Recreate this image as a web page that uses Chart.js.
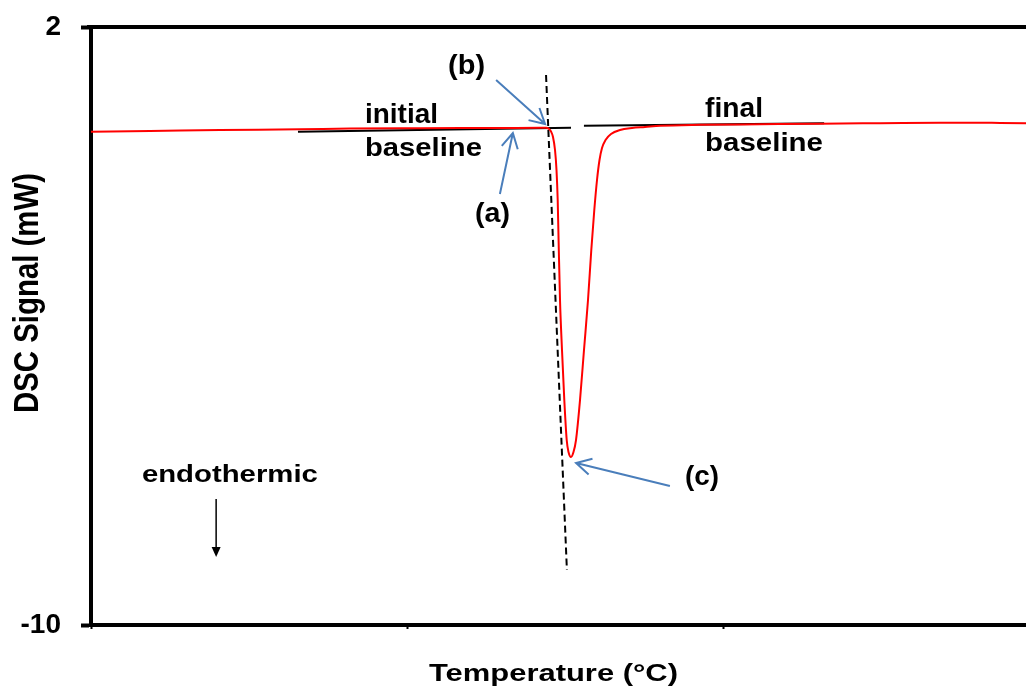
<!DOCTYPE html>
<html>
<head>
<meta charset="utf-8">
<title>DSC</title>
<script src="https://cdn.jsdelivr.net/npm/chart.js@4.4.0/dist/chart.umd.min.js"></script>
<style>
    html, body { margin: 0; padding: 0; background: #fff; overflow: hidden; }
    #wrap { position: relative; width: 1041px; height: 693px; }
</style>
</head>
<body>
<div id="wrap"><canvas id="myChart"></canvas></div>
<script>
// temperatura in unità arbitrarie (l'originale non stampa i numeri sull'asse x)
var temperature = [0, 0.187, 0.408, 0.661, 0.820, 1.041, 1.294, 1.421, 1.4399, 1.4494,
    1.4557, 1.4620, 1.4684, 1.4731, 1.4769, 1.4797, 1.4842, 1.4905, 1.4978, 1.5054,
    1.5111, 1.5190, 1.5269, 1.5348, 1.5475, 1.5601, 1.5728, 1.5832, 1.5927, 1.6013,
    1.6092, 1.6171, 1.6282, 1.6456, 1.6741, 1.7120, 1.753, 1.801, 1.927,
    2.117, 2.307, 2.497, 2.687, 2.813, 2.877, 2.959, 3.000];
var dsc_signal = [-0.101, -0.087, -0.067, -0.053, -0.037, -0.031, -0.027, -0.023, -0.023, -0.047,
    -0.097, -0.207, -0.468, -0.870, -1.472, -2.275, -3.479, -4.482, -5.486, -6.288,
    -6.529, -6.629, -6.529, -6.288, -5.486, -4.482, -3.479, -2.475, -1.673, -1.070,
    -0.669, -0.428, -0.267, -0.147, -0.067, -0.027, -0.007, 0.017, 0.037,
    0.049, 0.061, 0.069, 0.077, 0.081, 0.073, 0.069, 0.069];

// rette tangenti (linea di base iniziale, finale e tangente di onset)
var initial_base_x = [0.655, 1.519];
var initial_base_y = [-0.101, -0.021];
var final_base_x = [1.560, 2.320];
var final_base_y = [0.019, 0.067];
var onset_x = [1.440, 1.506];
var onset_y = [1.037, -8.897];

// scale
var y_min = -10;
var y_max = 2;
var x_min = 0;
var x_max = 3;

// etichette di testo (posizione in unità dei dati)
var labels = [
    { text: '(b)', x: 1.130, y: 1.057, size: 27, width: 37 },
    { text: 'initial', x: 0.867, y: 0.073, size: 27, width: 73 },
    { text: 'baseline', x: 0.867, y: -0.589, size: 26, width: 117 },
    { text: '(a)', x: 1.215, y: -1.913, size: 27, width: 35 },
    { text: 'final', x: 1.943, y: 0.194, size: 27, width: 58 },
    { text: 'baseline', x: 1.943, y: -0.488, size: 26, width: 118 },
    { text: '(c)', x: 1.880, y: -7.191, size: 27, width: 34 },
    { text: 'endothermic', x: 0.161, y: -7.131, size: 24, width: 176 }
];

// frecce blu (da -> a, unità dei dati)
var arrows = [
    { x1: 1.282, y1: 0.936, x2: 1.437, y2: 0.053 },
    { x1: 1.294, y1: -1.351, x2: 1.335, y2: -0.127 },
    { x1: 1.832, y1: -7.211, x2: 1.535, y2: -6.750 }
];
var endo_arrow = { x: 0.396, y1: -7.472, y2: -8.636 };

var FONT = "'Liberation Sans', Arial, sans-serif";
Chart.defaults.font.family = FONT;
Chart.defaults.color = '#000';

function to_points(xs, ys) {
    var pts = [];
    for (var i = 0; i < xs.length; i++) {
        pts.push({ x: xs[i], y: ys[i] });
    }
    return pts;
}

// scrive un testo adattandolo in larghezza (il grafico originale è stirato orizzontalmente)
function fit_text(ctx, text, x, y, size, width, rot, sy) {
    ctx.save();
    ctx.font = 'bold ' + size + 'px ' + FONT;
    ctx.textBaseline = 'alphabetic';
    ctx.textAlign = 'left';
    ctx.fillStyle = '#000';
    var w = ctx.measureText(text).width;
    ctx.translate(x, y);
    if (rot) ctx.rotate(rot);
    ctx.scale(width / w, sy || 1);
    ctx.fillText(text, 0, 0);
    ctx.restore();
}

function open_arrow(ctx, x1, y1, x2, y2) {
    var ang = Math.atan2(y2 - y1, x2 - x1);
    var len = 17, spread = 0.5;
    ctx.beginPath();
    ctx.moveTo(x1, y1);
    ctx.lineTo(x2, y2);
    ctx.moveTo(x2 - len * Math.cos(ang - spread), y2 - len * Math.sin(ang - spread));
    ctx.lineTo(x2, y2);
    ctx.lineTo(x2 - len * Math.cos(ang + spread), y2 - len * Math.sin(ang + spread));
    ctx.stroke();
}

var annotazioni = {
    id: 'annotazioni',
    afterDraw: function(chart) {
        var ctx = chart.ctx;
        var area = chart.chartArea;
        var sx = chart.scales.x;
        var sy = chart.scales.y;

        // bordo superiore
        ctx.save();
        ctx.strokeStyle = '#000';
        ctx.lineWidth = 4;
        ctx.beginPath();
        ctx.moveTo(area.left - 4, area.top);
        ctx.lineTo(area.right + 2, area.top);
        ctx.stroke();
        ctx.restore();

        // titoli degli assi
        fit_text(ctx, 'Temperature (°C)', 429, 681, 23, 249);
        fit_text(ctx, 'DSC Signal (mW)', 38, 413, 29, 240, -Math.PI / 2, 1.2);

        // etichette
        for (var i = 0; i < labels.length; i++) {
            var l = labels[i];
            fit_text(ctx, l.text, sx.getPixelForValue(l.x), sy.getPixelForValue(l.y), l.size, l.width);
        }

        // frecce blu
        ctx.save();
        ctx.strokeStyle = '#4a7ebb';
        ctx.lineWidth = 2;
        for (var j = 0; j < arrows.length; j++) {
            var a = arrows[j];
            open_arrow(ctx, sx.getPixelForValue(a.x1), sy.getPixelForValue(a.y1),
                sx.getPixelForValue(a.x2), sy.getPixelForValue(a.y2));
        }
        ctx.restore();

        // freccia nera "endothermic"
        var ex = sx.getPixelForValue(endo_arrow.x);
        var ey1 = sy.getPixelForValue(endo_arrow.y1);
        var ey2 = sy.getPixelForValue(endo_arrow.y2);
        ctx.save();
        ctx.strokeStyle = '#000';
        ctx.fillStyle = '#000';
        ctx.lineWidth = 1.5;
        ctx.beginPath();
        ctx.moveTo(ex, ey1);
        ctx.lineTo(ex, ey2 - 8);
        ctx.stroke();
        ctx.beginPath();
        ctx.moveTo(ex - 4.5, ey2 - 10);
        ctx.lineTo(ex + 4.5, ey2 - 10);
        ctx.lineTo(ex, ey2);
        ctx.closePath();
        ctx.fill();
        ctx.restore();
    }
};

var ctx = document.getElementById('myChart').getContext('2d');

var myChart = new Chart(ctx, {
    type: 'line',
    data: {
        datasets: [{
            label: 'DSC',
            data: to_points(temperature, dsc_signal),
            borderColor: '#ff0000',
            borderWidth: 2,
            pointRadius: 0,
            cubicInterpolationMode: 'monotone',
            order: 0
        }, {
            label: 'initial baseline',
            data: to_points(initial_base_x, initial_base_y),
            borderColor: '#000',
            borderWidth: 2,
            pointRadius: 0,
            order: 1
        }, {
            label: 'final baseline',
            data: to_points(final_base_x, final_base_y),
            borderColor: '#000',
            borderWidth: 2,
            pointRadius: 0,
            order: 1
        }, {
            label: 'onset',
            data: to_points(onset_x, onset_y),
            borderColor: '#000',
            borderWidth: 2,
            borderDash: [7, 4],
            pointRadius: 0,
            order: 1
        }]
    },
    options: {
        responsive: true,
        maintainAspectRatio: false,
        animation: false,
        layout: { padding: { top: 27, right: 2, left: 0, bottom: 0 } },
        plugins: {
            legend: { display: false },
            tooltip: { enabled: false }
        },
        scales: {
            x: {
                type: 'linear',
                min: x_min,
                max: x_max,
                afterFit: function(scale) {
                    scale.height = 68;
                    scale.paddingLeft = 0;
                    scale.paddingRight = 0;
                },
                ticks: { display: false, stepSize: 1 },
                grid: { drawOnChartArea: false, drawTicks: true, tickLength: 4, tickWidth: 2, color: '#000' },
                border: { color: '#000', width: 4 }
            },
            y: {
                min: y_min,
                max: y_max,
                afterFit: function(scale) {
                    scale.width = 91;
                    scale.paddingTop = 0;
                    scale.paddingBottom = 0;
                },
                ticks: { stepSize: 12, padding: 20, color: '#000', font: { size: 28, weight: 'bold' } },
                grid: { drawOnChartArea: false, tickLength: 10, tickWidth: 4, color: '#000' },
                border: { color: '#000', width: 4 }
            }
        }
    },
    plugins: [annotazioni]
});
</script>
</body>
</html>
